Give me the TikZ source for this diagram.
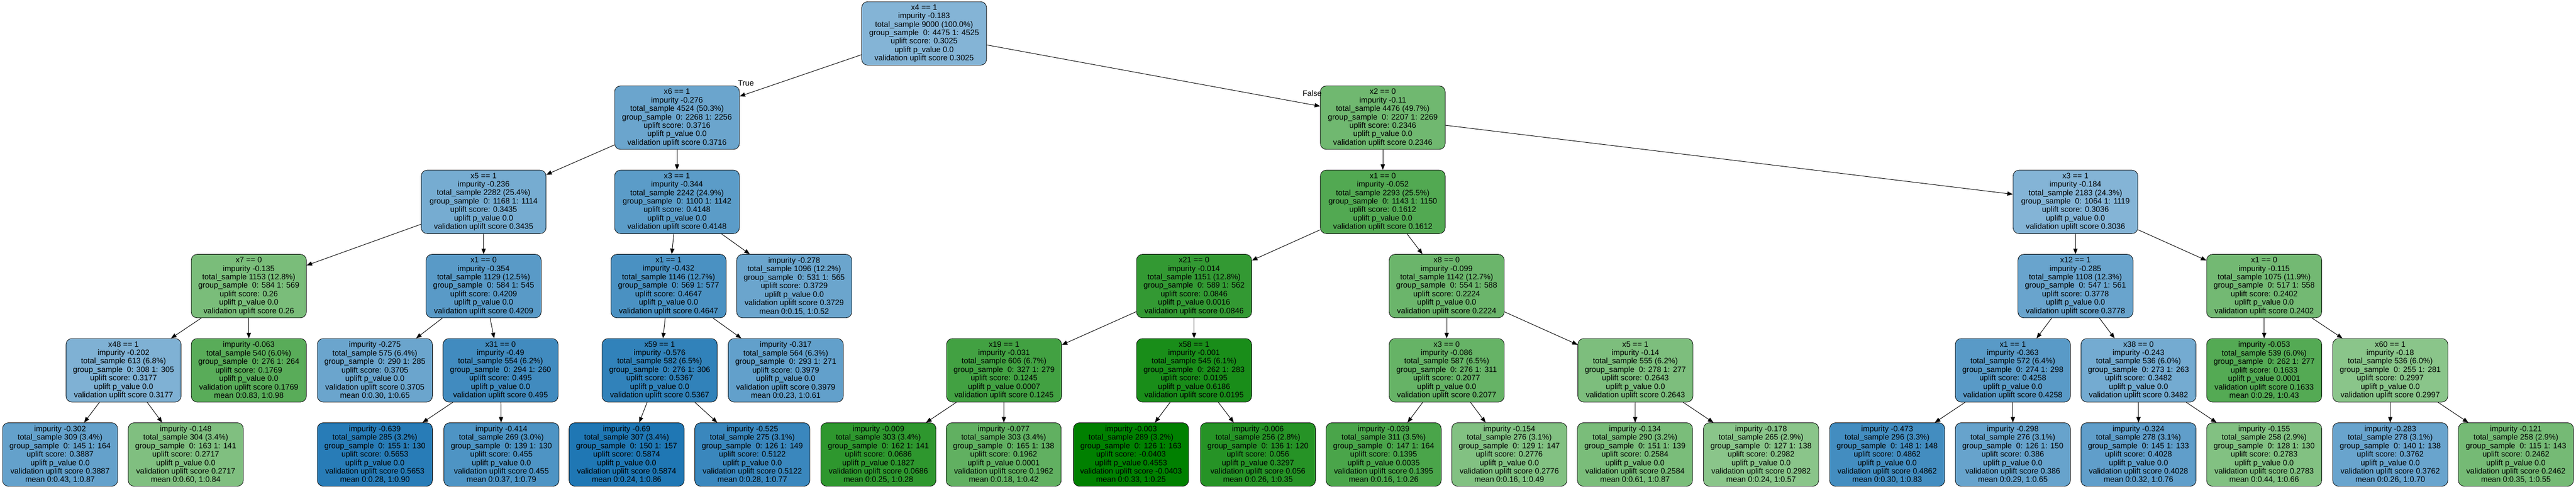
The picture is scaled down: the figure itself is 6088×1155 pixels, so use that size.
\documentclass[tikz,border=0pt]{standalone}
\usepackage{fontspec}
\setmainfont{Liberation Sans}
\usetikzlibrary{arrows.meta}
\definecolor{nblue}{HTML}{1F77B4}
\definecolor{ngreen}{HTML}{008000}
\newcommand{\splitlbl}[6]{#1\\impurity #2\\total\_sample #3\\group\_sample\ \ #4\\uplift score: #5\\uplift p\_value #6\\validation uplift score #5}
\newcommand{\leaflbl}[6]{impurity #1\\total\_sample #2\\group\_sample\ \ #3\\uplift score: #4\\uplift p\_value #5\\validation uplift score #4\\mean #6}
\tikzset{
    tnode/.style={draw=black, line width=1pt, rounded corners=14pt, align=center,
        minimum width=272pt, minimum height=150pt, inner xsep=6pt, inner ysep=0pt,
        font=\fontsize{18.5}{20}\selectfont},
    wide/.style={minimum width=295pt},
    bnode/.style={tnode, fill=nblue!#1},
    gnode/.style={tnode, fill=ngreen!#1},
    arr/.style={-{Triangle[length=13pt,width=10pt]}, line width=1.2pt},
    elbl/.style={font=\fontsize{18.5}{20}\selectfont, inner sep=0pt}
}
\begin{document}
\begin{tikzpicture}[x=1pt,y=-1pt]
    \useasboundingbox (0,0) rectangle (6088,1155);
    \node[bnode=55, wide] (x4) at (2184,79) {\splitlbl{x4 == 1}{-0.183}{9000 (100.0\%)}{0: 4475 1: 4525}{0.3025}{0.0}};
    \node[bnode=66, wide] (x6) at (1600,278) {\splitlbl{x6 == 1}{-0.276}{4524 (50.3\%)}{0: 2268 1: 2256}{0.3716}{0.0}};
    \node[gnode=56, wide] (x2) at (3268,278) {\splitlbl{x2 == 0}{-0.11}{4476 (49.7\%)}{0: 2207 1: 2269}{0.2346}{0.0}};
    \node[bnode=61, wide] (x5) at (1143,477) {\splitlbl{x5 == 1}{-0.236}{2282 (25.4\%)}{0: 1168 1: 1114}{0.3435}{0.0}};
    \node[bnode=73, wide] (x3a) at (1600,477) {\splitlbl{x3 == 1}{-0.344}{2242 (24.9\%)}{0: 1100 1: 1142}{0.4148}{0.0}};
    \node[gnode=68, wide] (x1a) at (3268,477) {\splitlbl{x1 == 0}{-0.052}{2293 (25.5\%)}{0: 1143 1: 1150}{0.1612}{0.0}};
    \node[bnode=55, wide] (x3b) at (4905,477) {\splitlbl{x3 == 1}{-0.184}{2183 (24.3\%)}{0: 1064 1: 1119}{0.3036}{0.0}};
    \node[gnode=52] (x7) at (588,676) {\splitlbl{x7 == 0}{-0.135}{1153 (12.8\%)}{0: 584 1: 569}{0.26}{0.0}};
    \node[bnode=74] (x1b) at (1143,676) {\splitlbl{x1 == 0}{-0.354}{1129 (12.5\%)}{0: 584 1: 545}{0.4209}{0.0}};
    \node[bnode=81] (x1c) at (1580,676) {\splitlbl{x1 == 1}{-0.432}{1146 (12.7\%)}{0: 569 1: 577}{0.4647}{0.0}};
    \node[bnode=66] (l278) at (1877,676) {\leaflbl{-0.278}{1096 (12.2\%)}{0: 531 1: 565}{0.3729}{0.0}{0:0.15, 1:0.52}};
    \node[gnode=80] (x21) at (2822,676) {\splitlbl{x21 == 0}{-0.014}{1151 (12.8\%)}{0: 589 1: 562}{0.0846}{0.0016}};
    \node[gnode=58] (x8) at (3419,676) {\splitlbl{x8 == 0}{-0.099}{1142 (12.7\%)}{0: 554 1: 588}{0.2224}{0.0}};
    \node[bnode=67] (x12) at (4905,676) {\splitlbl{x12 == 1}{-0.285}{1108 (12.3\%)}{0: 547 1: 561}{0.3778}{0.0}};
    \node[gnode=55] (x1d) at (5351,676) {\splitlbl{x1 == 0}{-0.115}{1075 (11.9\%)}{0: 517 1: 558}{0.2402}{0.0}};
    \node[bnode=57] (x48) at (292,875) {\splitlbl{x48 == 1}{-0.202}{613 (6.8\%)}{0: 308 1: 305}{0.3177}{0.0}};
    \node[gnode=65] (l063) at (588,875) {\leaflbl{-0.063}{540 (6.0\%)}{0: 276 1: 264}{0.1769}{0.0}{0:0.83, 1:0.98}};
    \node[bnode=66] (l275) at (886,875) {\leaflbl{-0.275}{575 (6.4\%)}{0: 290 1: 285}{0.3705}{0.0}{0:0.30, 1:0.65}};
    \node[bnode=85] (x31) at (1183,875) {\splitlbl{x31 == 0}{-0.49}{554 (6.2\%)}{0: 294 1: 260}{0.495}{0.0}};
    \node[bnode=92] (x59) at (1559,875) {\splitlbl{x59 == 1}{-0.576}{582 (6.5\%)}{0: 276 1: 306}{0.5367}{0.0}};
    \node[bnode=70] (l317) at (1857,875) {\leaflbl{-0.317}{564 (6.3\%)}{0: 293 1: 271}{0.3979}{0.0}{0:0.23, 1:0.61}};
    \node[gnode=74] (x19) at (2373,875) {\splitlbl{x19 == 1}{-0.031}{606 (6.7\%)}{0: 327 1: 279}{0.1245}{0.0007}};
    \node[gnode=90] (x58) at (2822,875) {\splitlbl{x58 == 1}{-0.001}{545 (6.1\%)}{0: 262 1: 283}{0.0195}{0.6186}};
    \node[gnode=60] (x3c) at (3419,875) {\splitlbl{x3 == 0}{-0.086}{587 (6.5\%)}{0: 276 1: 311}{0.2077}{0.0}};
    \node[gnode=51] (x5b) at (3865,875) {\splitlbl{x5 == 1}{-0.14}{555 (6.2\%)}{0: 278 1: 277}{0.2643}{0.0}};
    \node[bnode=74] (x1e) at (4757,875) {\splitlbl{x1 == 1}{-0.363}{572 (6.4\%)}{0: 274 1: 298}{0.4258}{0.0}};
    \node[bnode=62] (x38) at (5054,875) {\splitlbl{x38 == 0}{-0.243}{536 (6.0\%)}{0: 273 1: 263}{0.3482}{0.0}};
    \node[gnode=67] (l053) at (5351,875) {\leaflbl{-0.053}{539 (6.0\%)}{0: 262 1: 277}{0.1633}{0.0001}{0:0.29, 1:0.43}};
    \node[gnode=46] (x60) at (5649,875) {\splitlbl{x60 == 1}{-0.18}{536 (6.0\%)}{0: 255 1: 281}{0.2997}{0.0}};
    \node[bnode=69] (l302) at (142,1074) {\leaflbl{-0.302}{309 (3.4\%)}{0: 145 1: 164}{0.3887}{0.0}{0:0.43, 1:0.87}};
    \node[gnode=50] (l148) at (439,1074) {\leaflbl{-0.148}{304 (3.4\%)}{0: 163 1: 141}{0.2717}{0.0}{0:0.60, 1:0.84}};
    \node[bnode=96] (l639) at (886,1074) {\leaflbl{-0.639}{285 (3.2\%)}{0: 155 1: 130}{0.5653}{0.0}{0:0.28, 1:0.90}};
    \node[bnode=79] (l414) at (1185,1074) {\leaflbl{-0.414}{269 (3.0\%)}{0: 139 1: 130}{0.455}{0.0}{0:0.37, 1:0.79}};
    \node[bnode=100] (l69) at (1481,1074) {\leaflbl{-0.69}{307 (3.4\%)}{0: 150 1: 157}{0.5874}{0.0}{0:0.24, 1:0.86}};
    \node[bnode=88] (l525) at (1778,1074) {\leaflbl{-0.525}{275 (3.1\%)}{0: 126 1: 149}{0.5122}{0.0}{0:0.28, 1:0.77}};
    \node[gnode=82] (l009) at (2076,1074) {\leaflbl{-0.009}{303 (3.4\%)}{0: 162 1: 141}{0.0686}{0.1827}{0:0.25, 1:0.28}};
    \node[gnode=62] (l077) at (2372,1074) {\leaflbl{-0.077}{303 (3.4\%)}{0: 165 1: 138}{0.1962}{0.0001}{0:0.18, 1:0.42}};
    \node[gnode=100] (l003) at (2673,1074) {\leaflbl{-0.003}{289 (3.2\%)}{0: 126 1: 163}{-0.0403}{0.4553}{0:0.33, 1:0.25}};
    \node[gnode=85] (l006) at (2973,1074) {\leaflbl{-0.006}{256 (2.8\%)}{0: 136 1: 120}{0.056}{0.3297}{0:0.26, 1:0.35}};
    \node[gnode=71] (l039) at (3270,1074) {\leaflbl{-0.039}{311 (3.5\%)}{0: 147 1: 164}{0.1395}{0.0035}{0:0.16, 1:0.26}};
    \node[gnode=49] (l154) at (3567,1074) {\leaflbl{-0.154}{276 (3.1\%)}{0: 129 1: 147}{0.2776}{0.0}{0:0.16, 1:0.49}};
    \node[gnode=52] (l134) at (3864,1074) {\leaflbl{-0.134}{290 (3.2\%)}{0: 151 1: 139}{0.2584}{0.0}{0:0.61, 1:0.87}};
    \node[gnode=46] (l178) at (4162,1074) {\leaflbl{-0.178}{265 (2.9\%)}{0: 127 1: 138}{0.2982}{0.0}{0:0.24, 1:0.57}};
    \node[bnode=84] (l473) at (4460,1074) {\leaflbl{-0.473}{296 (3.3\%)}{0: 148 1: 148}{0.4862}{0.0}{0:0.30, 1:0.83}};
    \node[bnode=68] (l298) at (4757,1074) {\leaflbl{-0.298}{276 (3.1\%)}{0: 126 1: 150}{0.386}{0.0}{0:0.29, 1:0.65}};
    \node[bnode=71] (l324) at (5054,1074) {\leaflbl{-0.324}{278 (3.1\%)}{0: 145 1: 133}{0.4028}{0.0}{0:0.32, 1:0.76}};
    \node[gnode=49] (l155) at (5351,1074) {\leaflbl{-0.155}{258 (2.9\%)}{0: 128 1: 130}{0.2783}{0.0}{0:0.44, 1:0.66}};
    \node[bnode=67] (l283) at (5649,1074) {\leaflbl{-0.283}{278 (3.1\%)}{0: 140 1: 138}{0.3762}{0.0}{0:0.26, 1:0.70}};
    \node[gnode=54] (l121) at (5946,1074) {\leaflbl{-0.121}{258 (2.9\%)}{0: 115 1: 143}{0.2462}{0.0}{0:0.35, 1:0.55}};
    \node[elbl] (truelbl) at (1763,197) {True};
    \node[elbl] (falselbl) at (3101,221) {False};
    \foreach \a/\b in {x4/x6, x4/x2, x6/x5, x6/x3a, x5/x7, x5/x1b, x7/x48, x7/l063,
        x48/l302, x48/l148, x1b/l275, x1b/x31, x31/l639, x31/l414, x3a/x1c, x3a/l278,
        x1c/x59, x1c/l317, x59/l69, x59/l525, x2/x1a, x2/x3b, x1a/x21, x1a/x8,
        x21/x19, x21/x58, x19/l009, x19/l077, x58/l003, x58/l006, x8/x3c, x8/x5b,
        x3c/l039, x3c/l154, x5b/l134, x5b/l178, x3b/x12, x3b/x1d, x12/x1e, x12/x38,
        x1e/l473, x1e/l298, x38/l324, x38/l155, x1d/l053, x1d/x60, x60/l283, x60/l121}
        \draw[arr] (\a) -- (\b);
\end{tikzpicture}
\end{document}
